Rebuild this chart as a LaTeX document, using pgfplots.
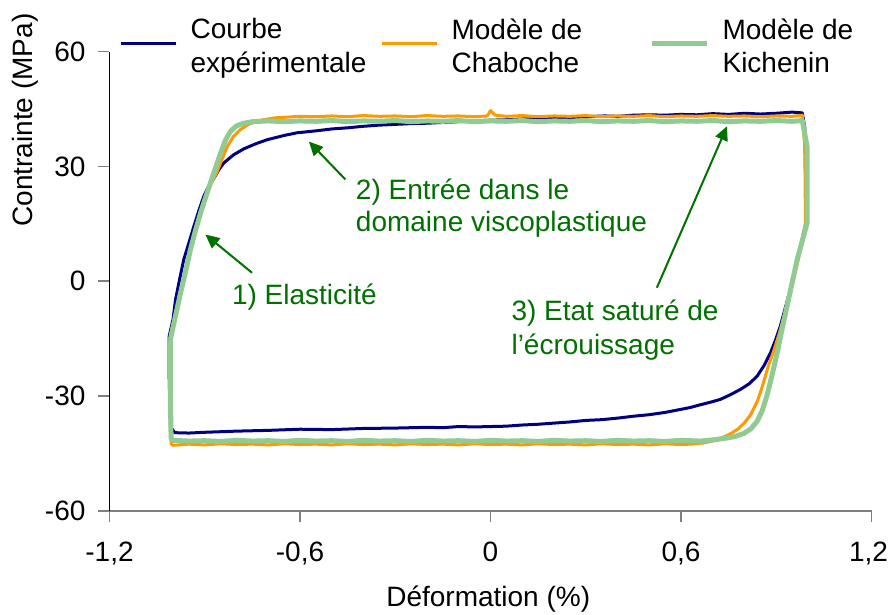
\documentclass[border=0pt]{standalone}
\usepackage{pgfplots}
\pgfplotsset{compat=1.18}
\usepackage{fontspec}
\setmainfont{Liberation Sans}
\usetikzlibrary{arrows.meta}
\definecolor{cnavy}{RGB}{0,0,128}
\definecolor{corange}{RGB}{255,153,0}
\definecolor{cgreen}{RGB}{145,203,145}
\definecolor{annot}{RGB}{0,112,0}
\definecolor{axgray}{RGB}{128,128,128}
\newcommand{\legshift}{-6.65pt}
\begin{document}
\begin{tikzpicture}
\begin{axis}[
  name=ax,
  scale only axis, width=381pt, height=229.5pt,
  xmin=-1.2, xmax=1.2, ymin=-60, ymax=60,
  axis lines*=left,
  clip=false,
  x axis line style={draw=axgray, line width=0.8pt},
  y axis line style={draw=black, line width=0.5pt},
  xtick={-1.2,-0.6,0,0.6,1.2}, ytick={-60,-30,0,30,60},
  xticklabels={{-1,2},{-0,6},{0},{0,6},{1,2\hspace*{3pt}}},
  tick align=outside, major tick length=5.5pt,
  xtick style={draw=axgray, line width=0.8pt},
  ytick style={draw=axgray, line width=0.8pt},
  tick label style={font=\fontsize{14}{16.7}\selectfont},
  /pgf/number format/.cd, use comma, fixed, assume math mode=true,
  /pgfplots/.cd,
  yticklabel style={xshift=-3pt},
  xticklabel style={yshift=-6.8pt},
  every axis x label/.style={at={(axis description cs:0.497,0)}, anchor=base, yshift=-47.65pt, font=\fontsize{14}{16.7}\selectfont},
  every axis y label/.style={at={(axis description cs:0,0.851)}, xshift=-42.25pt, rotate=90, anchor=center, font=\fontsize{14}{16.7}\selectfont},
  xlabel={Déformation (\%)},
  ylabel={Contrainte (MPa)},
  legend columns=3,
  legend cell align=left,
  legend image code/.code={\draw[#1] (0pt,\legshift) -- (27.5pt,\legshift); \path (34pt,\legshift);},
  legend style={draw=none, fill=none, inner sep=0pt, outer sep=0pt,
    at={(axis description cs:0,1)}, anchor=north west,
    xshift=5.05pt, yshift=16.6pt,
    nodes={inner sep=0pt},
    column sep=0pt,
    font=\fontsize{14}{16.7}\selectfont},
]
% Courbe experimentale
\addplot[cnavy, line width=1.5pt, line join=round] coordinates {
(-1.012,-14.4) (-1.0,-10.0) (-0.992,-4.8) (-0.98,0.2) (-0.966,5.7) (-0.95,10.0)
(-0.934,14.4) (-0.918,18.6) (-0.903,22.2) (-0.888,24.8) (-0.872,26.8) (-0.855,29.2)
(-0.840,30.9) (-0.81,33.0) (-0.777,34.6) (-0.74,35.9) (-0.703,37.0) (-0.65,38.1)
(-0.609,38.8) (-0.55,39.3) (-0.5,39.8) (-0.45,40.1) (-0.4,40.5) (-0.35,40.8)
(-0.3,41.0) (-0.25,41.2) (-0.2,41.3) (-0.15,41.5) (-0.1,41.7) (-0.05,41.9)
(0.0,42.1) (0.05,42.2) (0.1,42.4) (0.15,42.5) (0.2,42.7) (0.25,42.8) (0.3,43.0)
(0.36,43.2) (0.4,43.1) (0.45,43.4) (0.5,43.5) (0.55,43.4) (0.6,43.6) (0.65,43.5)
(0.7,43.8) (0.75,43.6) (0.8,43.9) (0.85,43.7) (0.9,43.9) (0.95,44.2) (0.982,44.0)
(0.99,40) (0.992,30) (0.993,15) (0.966,5.7) (0.94,-3.5) (0.913,-11.7) (0.898,-15.3)
(0.882,-18.7) (0.862,-22.0) (0.84,-24.8) (0.815,-26.8) (0.787,-28.3) (0.755,-29.7)
(0.724,-30.9) (0.69,-31.7) (0.661,-32.3) (0.63,-33.0) (0.6,-33.5) (0.55,-34.3)
(0.5,-34.9) (0.45,-35.3) (0.4,-35.8) (0.35,-36.2) (0.3,-36.4) (0.25,-36.8)
(0.2,-37.1) (0.15,-37.4) (0.1,-37.6) (0.05,-37.9) (0.0,-38.0) (-0.05,-38.1)
(-0.1,-38.0) (-0.15,-38.3) (-0.2,-38.2) (-0.3,-38.4) (-0.4,-38.5) (-0.5,-38.8)
(-0.6,-38.7) (-0.7,-39.0) (-0.8,-39.2) (-0.9,-39.5) (-0.95,-39.7) (-0.995,-39.6)
(-1.008,-38) (-1.012,-25) (-1.012,-14.4)
};
\addlegendentry{\parbox[t]{95pt}{Courbe\\expérimentale}}
% Modele de Chaboche
\addplot[corange, line width=1.5pt, line join=round] coordinates {
(-1.008,-14.0) (-0.992,-8.5) (-0.976,-3.0) (-0.96,2.6) (-0.945,8.3) (-0.93,13.0)
(-0.913,17.9) (-0.897,22.0) (-0.882,25.2) (-0.861,28.6) (-0.845,32.0) (-0.829,35.2)
(-0.81,37.8) (-0.787,39.7) (-0.76,41.1) (-0.724,42.1) (-0.68,42.7) (-0.64,42.9)
(-0.6,43.1) (-0.55,43.0) (-0.5,43.2) (-0.45,43.0) (-0.4,43.3) (-0.35,43.1)
(-0.3,43.2) (-0.25,43.0) (-0.2,43.3) (-0.15,43.1) (-0.1,43.2) (-0.05,43.0)
(-0.01,43.2) (0.0,44.6) (0.015,43.4) (0.05,43.1) (0.1,43.3) (0.15,43.0)
(0.2,43.2) (0.25,43.1) (0.3,43.3) (0.35,43.0) (0.4,43.2) (0.45,43.1) (0.5,43.3)
(0.55,43.0) (0.6,43.2) (0.65,43.1) (0.7,43.3) (0.75,43.1) (0.8,43.2) (0.85,43.0)
(0.9,43.2) (0.95,43.1) (0.982,43.4)
(0.99,35) (0.992,15.2) (0.97,6.0) (0.95,-1.0) (0.93,-7.5) (0.91,-13.5)
(0.893,-18.0) (0.875,-22.2) (0.858,-27.0) (0.84,-31.5) (0.82,-34.8) (0.80,-37.0)
(0.78,-38.6) (0.76,-39.7) (0.74,-40.5) (0.72,-41.2) (0.70,-41.8) (0.67,-42.3)
(0.63,-42.6) (0.6,-42.7) (0.55,-42.5) (0.5,-42.8) (0.45,-42.6) (0.4,-42.7)
(0.35,-42.5) (0.3,-42.8) (0.25,-42.6) (0.2,-42.7) (0.15,-42.5) (0.1,-42.8)
(0.05,-42.6) (0.0,-42.7) (-0.05,-42.5) (-0.1,-42.8) (-0.15,-42.6) (-0.2,-42.7)
(-0.25,-42.5) (-0.3,-42.8) (-0.35,-42.6) (-0.4,-42.7) (-0.45,-42.5) (-0.5,-42.8)
(-0.55,-42.6) (-0.6,-42.7) (-0.65,-42.5) (-0.7,-42.8) (-0.75,-42.6) (-0.8,-42.7)
(-0.85,-42.5) (-0.9,-42.8) (-0.95,-42.6) (-1.0,-42.9) (-1.006,-42.5)
(-1.008,-30) (-1.008,-14.0)
};
\addlegendentry{\parbox[t]{99pt}{Modèle de\\Chaboche}}
% Modele de Kichenin
\addplot[cgreen, line width=2.5pt, line join=round] coordinates {
(-1.008,-15.2) (-0.992,-9.0) (-0.976,-3.0) (-0.96,2.6) (-0.945,8.3) (-0.93,13.0)
(-0.913,17.9) (-0.897,22.0) (-0.882,25.7) (-0.866,29.6) (-0.85,33.5) (-0.835,36.8)
(-0.819,39.2) (-0.8,40.6) (-0.777,41.3) (-0.75,41.7) (-0.7,41.9) (-0.65,41.7)
(-0.6,41.9) (-0.55,41.8) (-0.5,42.0) (-0.45,41.7) (-0.4,41.9) (-0.35,41.8)
(-0.3,42.0) (-0.25,41.7) (-0.2,41.9) (-0.15,41.8) (-0.1,42.0) (-0.05,41.7)
(0.0,41.9) (0.05,41.8) (0.1,42.0) (0.15,41.7) (0.2,41.9) (0.25,41.8) (0.3,42.0)
(0.35,41.7) (0.4,41.9) (0.45,41.8) (0.5,42.0) (0.55,41.7) (0.6,41.9) (0.65,41.8)
(0.7,42.0) (0.75,41.7) (0.8,41.9) (0.85,41.8) (0.9,42.0) (0.95,41.8) (0.982,42.0)
(0.997,35.2) (0.997,15.2) (0.982,10.5) (0.966,5.7) (0.95,-0.4) (0.934,-6.5)
(0.918,-12.6) (0.903,-18.7) (0.887,-24.5) (0.872,-29.5) (0.856,-33.8) (0.84,-36.6)
(0.82,-38.6) (0.798,-39.8) (0.77,-40.6) (0.745,-41.0) (0.70,-41.5) (0.66,-41.8)
(0.6,-41.6) (0.55,-41.9) (0.5,-41.7) (0.45,-41.8) (0.4,-41.6) (0.35,-41.9)
(0.3,-41.7) (0.25,-41.8) (0.2,-41.6) (0.15,-41.9) (0.1,-41.7) (0.05,-41.8)
(0.0,-41.6) (-0.05,-41.9) (-0.1,-41.7) (-0.15,-41.8) (-0.2,-41.6) (-0.25,-41.9)
(-0.3,-41.7) (-0.35,-41.8) (-0.4,-41.6) (-0.45,-41.9) (-0.5,-41.7) (-0.55,-41.8)
(-0.6,-41.6) (-0.65,-41.9) (-0.7,-41.7) (-0.75,-41.8) (-0.8,-41.6) (-0.85,-41.9)
(-0.9,-41.7) (-0.95,-41.8) (-1.0,-41.6) (-1.006,-41.2) (-1.008,-30) (-1.008,-15.2)
};
\addlegendentry{\parbox[t]{95pt}{Modèle de\\Kichenin}}
% annotations
\draw[annot, line width=1pt, -{Triangle[length=7pt,width=6.5pt]}] (axis cs:-0.751,2.2) -- (axis cs:-0.898,12.2);
\draw[annot, line width=1pt, -{Triangle[length=7pt,width=6.5pt]}] (axis cs:-0.457,26.6) -- (axis cs:-0.572,36.5);
\draw[annot, line width=1pt, -{Triangle[length=7pt,width=6.5pt]}] (axis cs:0.524,-1.7) -- (axis cs:0.745,40.5);
\node[annot, anchor=base, inner sep=0pt, font=\fontsize{14}{16.7}\selectfont] at (axis cs:-0.586,-6.1) {1) Elasticité};
\node[annot, anchor=base west, inner sep=0pt, font=\fontsize{14}{16.7}\selectfont] at (axis cs:-0.425,21.3) {2) Entrée dans le};
\node[annot, anchor=base west, inner sep=0pt, font=\fontsize{14}{16.7}\selectfont] at (axis cs:-0.425,13.0) {domaine viscoplastique};
\node[annot, anchor=base west, inner sep=0pt, font=\fontsize{14}{16.7}\selectfont] at (axis cs:0.065,-10.4) {3) Etat saturé de};
\node[annot, anchor=base west, inner sep=0pt, font=\fontsize{14}{16.7}\selectfont] at (axis cs:0.065,-19.1) {l’écrouissage};
\end{axis}
\pgfresetboundingbox
\path[use as bounding box] ([shift={(-54.75pt,-52.15pt)}]ax.south west) rectangle ([shift={(389.25pt,255.35pt)}]ax.south west);
\end{tikzpicture}
\end{document}
